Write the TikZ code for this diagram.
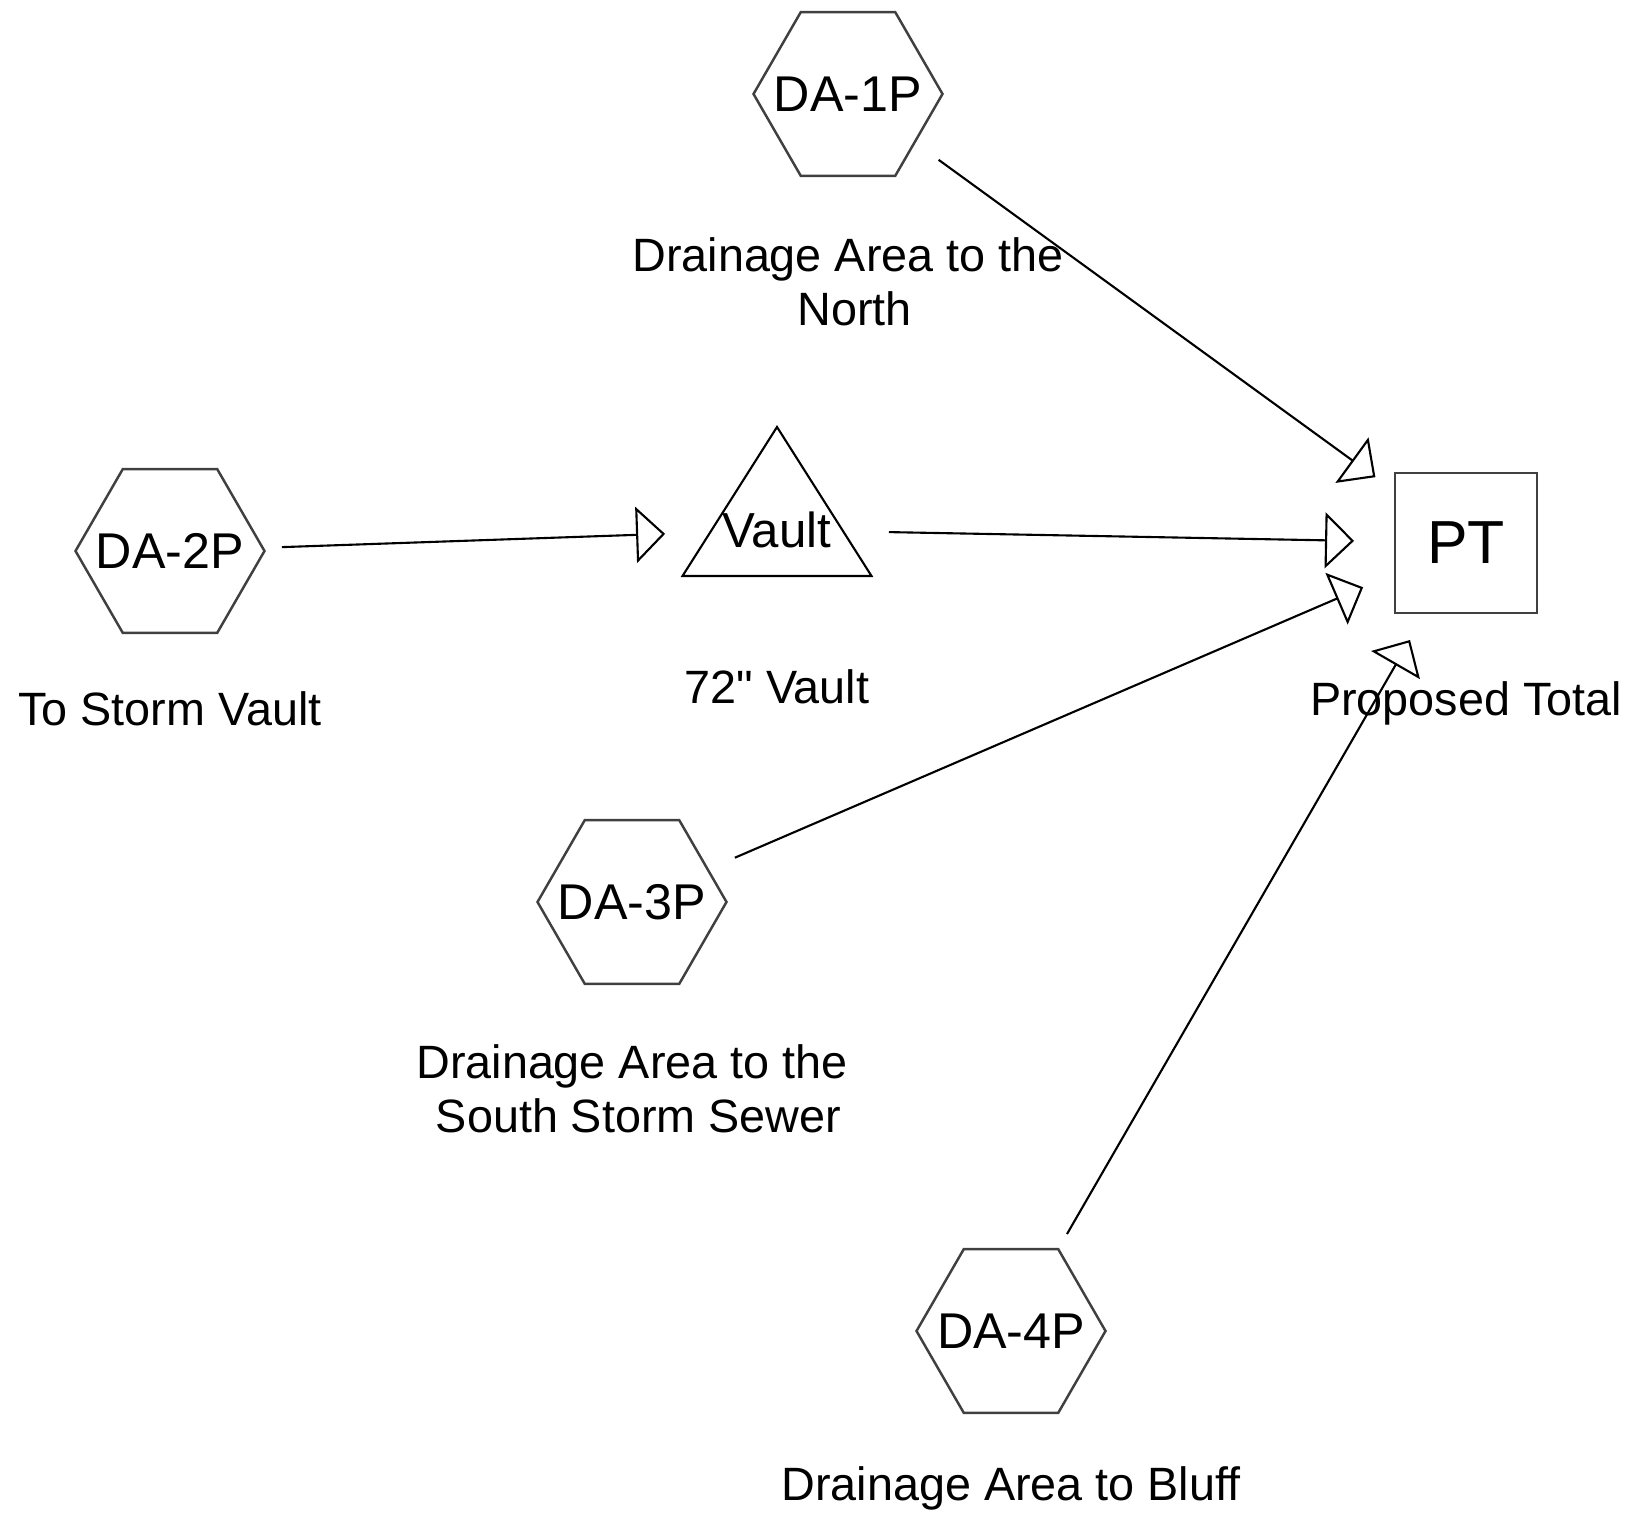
\documentclass[tikz,border=0pt]{standalone}
\usepackage{fontspec}
\setmainfont{Liberation Sans}[Ligatures=TeXOff]
\usetikzlibrary{arrows.meta, shapes, positioning}

\begin{document}
\begin{tikzpicture}[on grid,
        hexa/.style={regular polygon, regular polygon sides=6, draw=black!75, line width=0.7pt, inner sep=0pt, minimum size=1.89cm, label={[font=\fontsize{14.3}{17}\selectfont]center:#1}},
        total/.style={rectangle, draw=black!75, line width=0.7pt, minimum width=1.42cm, minimum height=1.40cm, font=\fontsize{17.3}{20}\selectfont},
        tank/.style={inner sep=0pt, font=\fontsize{14}{17}\selectfont},
        caption/.style={align=center, font=\fontsize{13.3}{15.4}\selectfont},
        flow/.style={draw, line width=0.6pt, shorten <=1.12cm, shorten >=1.12cm, -{Triangle[open, length=0.29cm, width=0.56cm]}}]
            \node[hexa=DA-2P] (da2) {};
            % page size
            \path[use as bounding box] (da2.center) ++(-1.70,5.51) rectangle ++(16.43,-15.19);

            \node[tank] (vault) [above right = 0.21cm and 6.07cm of da2] {Vault};
            \node[total] (pt) [below right = 0.13cm and 6.89cm of vault] {PT};
            \node[hexa=DA-1P] (da1) [above right = 4.36cm and 0.71cm of vault] {};
            \node[hexa=DA-3P] (da3) [below left = 3.72cm and 1.45cm of vault] {};
            \node[hexa=DA-4P] (da4) [below right = 4.29cm and 3.79cm of da3] {};

            \draw[line width=0.6pt] (vault.center) ++(0,1.03) -- ++(0.945,-1.49) -- ++(-1.89,0) -- cycle;

            \node[caption] (da1text) [below = 1.88cm of da1] {Drainage Area to the\\\ North};
            \node[caption] (da2text) [below = 1.58cm of da2] {To Storm Vault};
            \node[caption] (vaulttext) [below = 1.57cm of vault] {72" Vault};
            \node[caption] (pttext) [below = 1.60cm of pt] {Proposed Total};
            \node[caption] (da3text) [below = 1.87cm of da3] {Drainage Area to the\\\ South Storm Sewer};
            \node[caption] (da4text) [below = 1.57cm of da4] {Drainage Area to Bluff};

            \path (da2.center) edge [flow] (vault.center);
            \path (vault.center) edge [flow] (pt.center);
            \path (da1.center) edge [flow] (pt.center);
            \path (da3.center) edge [flow] (pt.center);
            \path (da4.center) edge [flow] (pt.center);
        \end{tikzpicture}
\end{document}
